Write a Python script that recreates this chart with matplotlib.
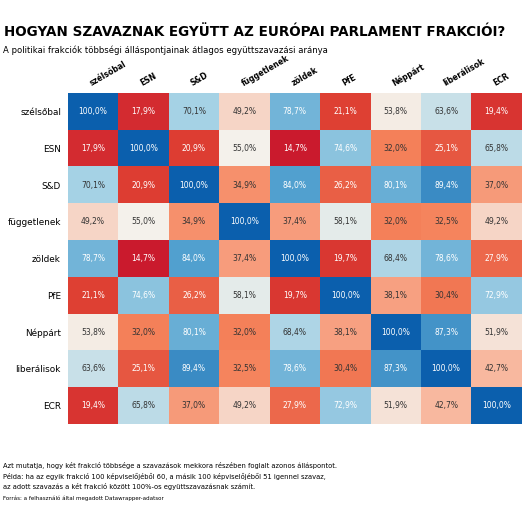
import numpy as np
import matplotlib
matplotlib.use("Agg")
import matplotlib.pyplot as plt
from matplotlib.colors import LinearSegmentedColormap

plt.rcParams['font.family'] = 'DejaVu Sans'

groups = ["szélsőbal", "ESN", "S&D", "függetlenek", "zöldek", "PfE",
          "Néppárt", "liberálisok", "ECR"]

szelsobal = [100.0, 17.9, 70.1, 49.2, 78.7, 21.1, 53.8, 63.6, 19.4]
esn = [17.9, 100.0, 20.9, 55.0, 14.7, 74.6, 32.0, 25.1, 65.8]
sd = [70.1, 20.9, 100.0, 34.9, 84.0, 26.2, 80.1, 89.4, 37.0]
fuggetlenek = [49.2, 55.0, 34.9, 100.0, 37.4, 58.1, 32.0, 32.5, 49.2]
zoldek = [78.7, 14.7, 84.0, 37.4, 100.0, 19.7, 68.4, 78.6, 27.9]
pfe = [21.1, 74.6, 26.2, 58.1, 19.7, 100.0, 38.1, 30.4, 72.9]
neppart = [53.8, 32.0, 80.1, 32.0, 68.4, 38.1, 100.0, 87.3, 51.9]
liberalisok = [63.6, 25.1, 89.4, 32.5, 78.6, 30.4, 87.3, 100.0, 42.7]
ecr = [19.4, 65.8, 37.0, 49.2, 27.9, 72.9, 51.9, 42.7, 100.0]

matrix = np.array([szelsobal, esn, sd, fuggetlenek, zoldek, pfe,
                   neppart, liberalisok, ecr])

title = "HOGYAN SZAVAZNAK EGYÜTT AZ EURÓPAI PARLAMENT FRAKCIÓI?"
subtitle = "A politikai frakciók többségi álláspontjainak átlagos együttszavazási aránya"
notes = ("Azt mutatja, hogy két frakció többsége a szavazások mekkora részében foglalt azonos álláspontot.\n"
         "Példa: ha az egyik frakció 100 képviselőjéből 60, a másik 100 képviselőjéből 51 igennel szavaz,\n"
         "az adott szavazás a két frakció között 100%-os együttszavazásnak számít.")
source = "Forrás: a felhasználó által megadott Datawrapper-adatsor"

cmap = LinearSegmentedColormap.from_list("rdbu_custom", [
    (0.00, "#a50f26"),
    (0.147, "#cb1b2e"),
    (0.21, "#de3f33"),
    (0.32, "#f5825a"),
    (0.42, "#f9b59b"),
    (0.55, "#f4f2ec"),
    (0.70, "#a7d3e6"),
    (0.84, "#53a2d0"),
    (1.00, "#0b5fad"),
])

fig = plt.figure(figsize=(5.26, 5.13), dpi=100)
ax = fig.add_axes([0.129, 0.1735, 0.863, 0.645])

ax.imshow(matrix, cmap=cmap, vmin=0, vmax=100, aspect='auto')

n = len(groups)
for i in range(n):
    for j in range(n):
        v = matrix[i, j]
        tc = "white" if (v < 29 or v > 71) else "#333333"
        ax.text(j, i, f"{v:.1f}%".replace(".", ","), ha='center', va='center',
                fontsize=5.5, color=tc)

ax.set_xticks(range(n))
ax.set_yticks(range(n))
ax.xaxis.tick_top()
ax.set_xticklabels(groups, rotation=30, ha='left', rotation_mode='anchor',
                   fontsize=5.6, fontweight='bold')
ax.set_yticklabels(groups, fontsize=6.4)
ax.tick_params(axis='y', length=0, pad=5)
ax.tick_params(axis='x', length=0, pad=4)
for s in ax.spines.values():
    s.set_visible(False)

fig.text(0.008, 0.937, title, fontsize=9.75, fontweight='bold', va='center')
fig.text(0.006, 0.903, subtitle, fontsize=6.15, va='center')
fig.text(0.006, 0.072, notes, fontsize=4.9, va='center', linespacing=1.55)
fig.text(0.006, 0.029, source, fontsize=4.0, va='center')

fig.savefig("out.png", dpi=100)
